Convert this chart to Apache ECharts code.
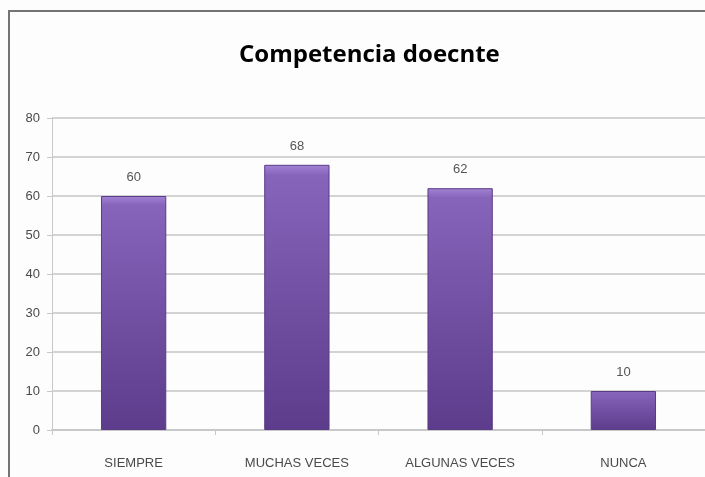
<!DOCTYPE html>
<html>
<head>
<meta charset="utf-8">
<title>Competencia doecnte</title>
<script src="https://cdn.jsdelivr.net/npm/echarts@6/dist/echarts.min.js"></script>
<style>
  html, body { margin: 0; padding: 0; background: #fff; }
  #chart { width: 705px; height: 477px; }
</style>
</head>
<body>
<div id="chart"></div>
<script>
  // datos
  var categorias = ['SIEMPRE', 'MUCHAS VECES', 'ALGUNAS VECES', 'NUNCA'];
  var valores = [60, 68, 62, 10];
  var yMin = 0, yMax = 80, yPaso = 10;

  var chart = echarts.init(document.getElementById('chart'));
  var fuente = '"Liberation Sans Narrow", "Liberation Sans", sans-serif';

  var option = {
    backgroundColor: '#fdfdfd',
    animation: false,
    title: {
      text: 'Competencia doecnte',
      left: 234,
      top: 38,
      textStyle: {
        fontFamily: '"Open Sans", sans-serif',
        fontWeight: 'bold',
        fontSize: 24,
        color: '#000'
      }
    },
    // marco del grafico
    graphic: [{
      type: 'rect',
      shape: { x: 9, y: 11, width: 800, height: 600 },
      style: { fill: 'none', stroke: '#747474', lineWidth: 2 },
      silent: true
    }],
    grid: { left: 52, right: -2, top: 118, bottom: 47 },
    xAxis: {
      type: 'category',
      data: categorias,
      axisLine: { show: true, lineStyle: { color: '#c8c8c8', width: 2 } },
      axisTick: { show: true, length: 5, lineStyle: { color: '#c8c8c8' } },
      axisLabel: { color: '#4a4a4a', fontSize: 13, fontFamily: fuente, margin: 27 }
    },
    yAxis: {
      type: 'value',
      min: yMin,
      max: yMax,
      interval: yPaso,
      axisLine: { show: true, lineStyle: { color: '#c8c8c8', width: 1 } },
      axisTick: { show: true, length: 5, lineStyle: { color: '#c8c8c8' } },
      axisLabel: { color: '#4a4a4a', fontSize: 13, fontFamily: fuente, margin: 12 },
      splitLine: { lineStyle: { color: '#d3d3d3', width: 2 } }
    },
    series: [{
      type: 'bar',
      data: valores,
      barWidth: '40%',
      itemStyle: {
        color: new echarts.graphic.LinearGradient(0, 0, 0, 1, [
          { offset: 0, color: '#a283d4' },
          { offset: 0.04, color: '#8664ba' },
          { offset: 1, color: '#5c3c8b' }
        ]),
        borderColor: '#5a3b86',
        borderWidth: 1
      },
      label: {
        show: true,
        position: 'top',
        distance: 12,
        color: '#555',
        fontSize: 13,
        fontFamily: fuente
      }
    }]
  };

  chart.setOption(option);
</script>
</body>
</html>
